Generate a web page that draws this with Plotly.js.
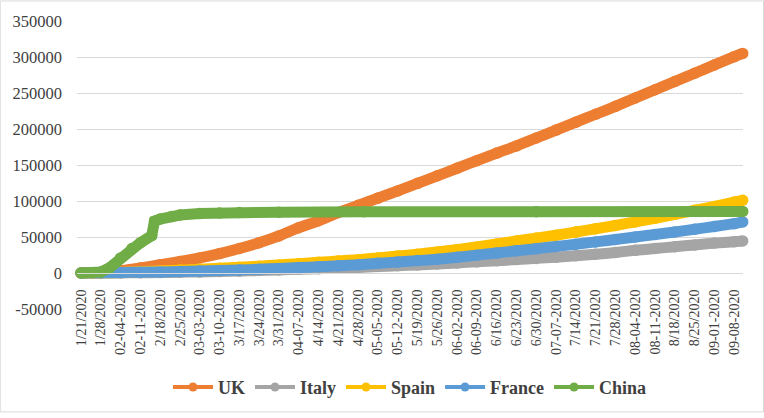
<!DOCTYPE html>
<html>
<head>
<meta charset="utf-8">
<script src="https://cdn.plot.ly/plotly-3.0.1.min.js"></script>
</head>
<body style="margin:0">
<div id="chart" style="width:764px;height:418px"></div>
<script>
// Weekly sample dates (also tick positions) and the last data date
const weekDates = [
  '2020-01-21','2020-01-28','2020-02-04','2020-02-11','2020-02-18','2020-02-25',
  '2020-03-03','2020-03-10','2020-03-17','2020-03-24','2020-03-31','2020-04-07',
  '2020-04-14','2020-04-21','2020-04-28','2020-05-05','2020-05-12','2020-05-19',
  '2020-05-26','2020-06-02','2020-06-09','2020-06-16','2020-06-23','2020-06-30',
  '2020-07-07','2020-07-14','2020-07-21','2020-07-28','2020-08-04','2020-08-11',
  '2020-08-18','2020-08-25','2020-09-01','2020-09-08'
];
const lastDate = '2020-09-11';
const tickLabels = [
  '1/21/2020','1/28/2020','02-04-2020','02-11-2020','2/18/2020','2/25/2020',
  '03-03-2020','03-10-2020','3/17/2020','3/24/2020','3/31/2020','04-07-2020',
  '4/14/2020','4/21/2020','4/28/2020','05-05-2020','05-12-2020','5/19/2020',
  '5/26/2020','06-02-2020','06-09-2020','6/16/2020','6/23/2020','6/30/2020',
  '07-07-2020','7/14/2020','7/21/2020','7/28/2020','08-04-2020','08-11-2020',
  '8/18/2020','8/25/2020','09-01-2020','09-08-2020'
];
const yTickVals = [-50000,0,50000,100000,150000,200000,250000,300000,350000];
const yTickLabels = ['-50000','0','50000','100000','150000','200000','250000','300000','350000'];

// Values at weekDates + lastDate
const ukValues = [0,500,3000,7000,11500,16000,21000,27000,34000,42000,51500,63000,
  72500,84000,94000,104000,114000,124500,135000,145500,156000,166500,176500,187500,
  198500,209500,220500,231500,243000,254500,266000,277500,289000,300500,305000];
const italyValues = [0,0,100,300,600,1000,1500,2000,2700,3400,4300,5200,
  6000,7000,7800,9000,10000,11200,12500,14000,15500,17000,18600,20300,
  22000,24000,26000,28500,31500,34000,36500,39000,41500,43500,44500];
const spainValues = [0,200,800,1800,2800,4000,5200,6500,7900,9500,11200,13000,
  14800,16800,18500,21000,23500,26200,29200,32500,36200,40200,44500,48500,
  52500,57000,61500,66000,71000,76000,81500,87000,92500,98500,101000];
const franceValues = [0,200,700,1200,1500,2000,2700,3400,4200,5200,6300,7500,
  8800,10200,11500,13500,15300,17200,19200,22000,24800,27800,30800,33800,
  36800,40000,43200,46500,50000,53500,57000,60800,64600,68500,71000];

// China has its own dates (jump in mid-February)
const chinaDates = ['2020-01-21','2020-01-25','2020-01-28','2020-01-31','2020-02-04',
  '2020-02-08','2020-02-11','2020-02-15','2020-02-16','2020-02-18','2020-02-22',
  '2020-02-25','2020-03-03','2020-03-10','2020-03-17','2020-03-31','2020-04-30',
  '2020-06-30','2020-09-11'];
const chinaValues = [0,300,1500,7000,21000,34000,42000,52000,72000,75000,78500,
  80500,82500,83500,84000,84500,85000,85200,85500];

const seriesNames = ['UK','Italy','Spain','France','China'];
const seriesColors = ['#ED7D31','#A5A5A5','#FFC000','#5B9BD5','#70AD47'];

const allDates = weekDates.concat([lastDate]);
const seriesX = [allDates, allDates, allDates, allDates, chinaDates];
const seriesY = [ukValues, italyValues, spainValues, franceValues, chinaValues];

const traces = [];
for (let i = 0; i < seriesNames.length; i++) {
  traces.push({
    type: 'scatter', mode: 'lines+markers', name: seriesNames[i],
    x: seriesX[i], y: seriesY[i], showlegend: false, cliponaxis: false,
    line: { color: seriesColors[i], width: 11, shape: i === 4 ? 'linear' : 'spline', smoothing: 0.6 },
    marker: { color: seriesColors[i], size: 11.5 },
    hoverinfo: 'skip'
  });
}
for (let i = 0; i < seriesNames.length; i++) {
  traces.push({
    type: 'scatter', mode: 'lines+markers', name: seriesNames[i],
    x: [null], y: [null], showlegend: true,
    line: { color: seriesColors[i], width: 4 },
    marker: { color: seriesColors[i], size: 9 }
  });
}

const layout = {
  width: 764, height: 418,
  margin: { l: 77, r: 21, t: 21, b: 105.5, pad: 0 },
  paper_bgcolor: '#ffffff', plot_bgcolor: '#ffffff',
  showlegend: true,
  font: { family: 'Liberation Serif', size: 14, color: '#404040' },
  xaxis: {
    type: 'date',
    range: ['2020-01-19 14:00', '2020-09-11 02:30'],
    anchor: 'free', position: 0.125,
    tickmode: 'array', tickvals: weekDates, ticktext: tickLabels,
    tickangle: -90, showgrid: false, zeroline: false,
    showline: true, linecolor: '#d9d9d9', linewidth: 1,
    ticks: '', ticklabelstandoff: 10,
    tickfont: { family: 'Liberation Serif', size: 14, color: '#404040' }
  },
  yaxis: {
    range: [-50000, 350000],
    tickmode: 'array', tickvals: yTickVals, ticktext: yTickLabels,
    showgrid: true, gridcolor: '#d9d9d9', gridwidth: 1,
    zeroline: false, showline: false, ticks: '',
    ticklabelstandoff: 14,
    tickfont: { family: 'Liberation Serif', size: 16.5, color: '#404040' }
  },
  legend: {
    orientation: 'h', x: 0.5, xanchor: 'center', y: -0.272, yanchor: 'middle',
    font: { family: 'Liberation Serif', size: 18, color: '#404040', weight: 'bold' },
    itemwidth: 40, tracegroupgap: 0, bgcolor: 'rgba(0,0,0,0)'
  },
  shapes: [{
    type: 'rect', xref: 'paper', yref: 'paper',
    x0: -0.1153, x1: 1.0308, y0: -0.3572, y1: 1.0696,
    line: { color: '#d9d9d9', width: 1 }, fillcolor: 'rgba(0,0,0,0)', layer: 'below'
  }]
};

Plotly.newPlot('chart', traces, layout, { displayModeBar: false });
</script>
</body>
</html>
